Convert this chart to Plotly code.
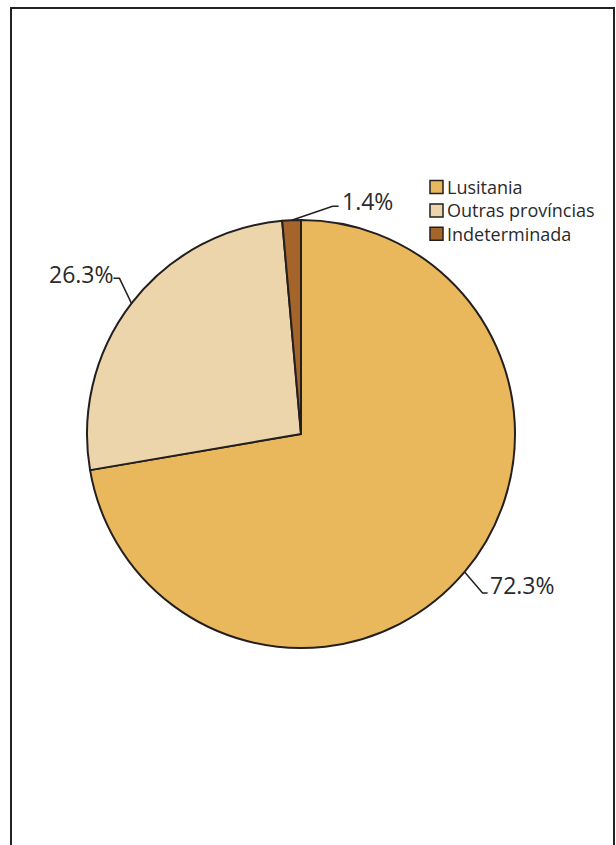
import math
import plotly.graph_objects as go

# ---- data ----
categories = ["Lusitania", "Outras províncias", "Indeterminada"]
values = [72.3, 26.3, 1.4]
value_labels = ["72.3%", "26.3%", "1.4%"]
colors = ["#EAB85C", "#EDD5AB", "#A5642A"]

# ---- layout/style ----
W, H = 616, 845
CX, CY, R = 301, 434, 214
INK = "#231F20"
TXT = "#2a2a2a"
FONT = "Open Sans"

# per-slice leader line: elbow offset from slice edge, tail length, text side, text gap, text y shift
leader_style = [
    dict(elbow=(18, 21), tail=5, side="left", gap=0, ty=-8),
    dict(elbow=(-12, -25), tail=-6, side="right", gap=3, ty=-4),
    dict(elbow=(41, -14), tail=6, side="left", gap=1, ty=-5),
]


def px(x):
    return x / W


def py(y):
    return 1 - y / H


fig = go.Figure(
    go.Pie(
        labels=categories,
        values=values,
        sort=False,
        direction="clockwise",
        rotation=0,
        marker=dict(colors=colors, line=dict(color=INK, width=2)),
        textinfo="none",
        hoverinfo="label+percent",
        showlegend=False,
        domain=dict(x=[px(CX - R), px(CX + R)], y=[py(CY + R), py(CY - R)]),
    )
)

shapes = []
annotations = []
total = sum(values)
cum = 0.0
for v, lab, st in zip(values, value_labels, leader_style):
    theta = 2 * math.pi * (cum + v / 2) / total
    cum += v
    ex = CX + R * math.sin(theta)
    ey = CY - R * math.cos(theta)
    bx, by = ex + st["elbow"][0], ey + st["elbow"][1]
    tx = bx + st["tail"]
    shapes.append(dict(
        type="path", xref="paper", yref="paper",
        path=f"M {px(ex)},{py(ey)} L {px(bx)},{py(by)} L {px(tx)},{py(by)}",
        line=dict(color=INK, width=1.5),
    ))
    annotations.append(dict(
        text=lab, xref="paper", yref="paper",
        x=px(tx + st["gap"]), y=py(by + st["ty"]),
        xanchor=st["side"], yanchor="middle", showarrow=False,
        font=dict(family=FONT, size=23, color=TXT),
    ))

# manual legend (one multi-line text block + colour boxes)
LEG_FS = 18
leg_x, leg_y0, box = 430, 187, 13
leg_dy = LEG_FS * 1.3
for i, col in enumerate(colors):
    yc = leg_y0 + i * leg_dy
    shapes.append(dict(
        type="rect", xref="paper", yref="paper",
        x0=px(leg_x), x1=px(leg_x + box), y0=py(yc + box / 2), y1=py(yc - box / 2),
        fillcolor=col, line=dict(color=INK, width=1.5),
    ))
annotations.append(dict(
    text="<br>".join(categories), xref="paper", yref="paper",
    x=px(leg_x + box + 2), y=py(leg_y0 + leg_dy * (len(categories) - 1) / 2),
    xanchor="left", yanchor="middle", align="left", showarrow=False,
    font=dict(family=FONT, size=LEG_FS, color=TXT),
))

# frame
shapes.append(dict(
    type="rect", xref="paper", yref="paper",
    x0=px(11), x1=px(614), y0=py(860), y1=py(8),
    line=dict(color="#222222", width=2),
))

fig.update_layout(
    width=W, height=H,
    margin=dict(l=0, r=0, t=0, b=0),
    paper_bgcolor="white", plot_bgcolor="white",
    shapes=shapes, annotations=annotations,
    showlegend=False,
)

fig.write_html("out.html")
